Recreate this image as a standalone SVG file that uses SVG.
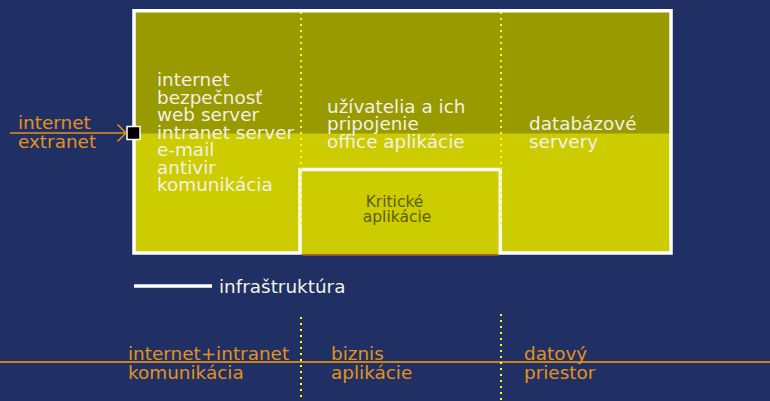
<svg xmlns="http://www.w3.org/2000/svg" width="770" height="401" viewBox="0 0 770 401">
<style>
  .t { font-family: "DejaVu Sans", Verdana, sans-serif; font-size: 18.4px; }
  .w { fill: #f2f2e6; }
  .o { fill: #e3921a; }
  .k { font-family: "DejaVu Sans", Verdana, sans-serif; font-size: 15.5px; fill: #5e5e00; }
  .dot { stroke: #ffff00; stroke-width: 2; stroke-dasharray: 2 4; fill: none; }
  .wl { stroke: #ffffff; stroke-width: 3.5; fill: none; }
</style>
<defs>
  <marker id="chev" viewBox="0 0 10 18" refX="9" refY="9" markerWidth="10" markerHeight="18" markerUnits="userSpaceOnUse" orient="auto">
    <path d="M0.5,0.5 L9,9 L0.5,17.5" fill="none" stroke="#e3921a" stroke-width="1.5"/>
  </marker>
</defs>
<rect width="770" height="401" fill="#203064"/>

<g id="frame">
  <rect x="134" y="10.7" width="537" height="122.5" fill="#999900"/>
  <rect x="134" y="133.2" width="537" height="120" fill="#cccc00"/>
  <rect x="300" y="169" width="200" height="85" fill="#cccc00"/>
  <line x1="302" y1="254.8" x2="499" y2="254.8" stroke="#d97a10" stroke-width="1.2"/>
  <path class="wl" d="M134,10.7 H671 V253 H500.3 V169.5 H300 V253 H134 Z"/>
  <line class="dot" x1="301" y1="12" x2="301" y2="229"/>
  <line class="dot" x1="501" y1="12" x2="501" y2="229"/>
</g>

<g id="section-internet">
  <text class="t w" x="157">
    <tspan x="157" y="86">internet</tspan>
    <tspan x="157" y="103.6">bezpečnosť</tspan>
    <tspan x="157" y="121">web server</tspan>
    <tspan x="157" y="138.5">intranet server</tspan>
    <tspan x="157" y="156">e-mail</tspan>
    <tspan x="157" y="173.8">antivir</tspan>
    <tspan x="157" y="191.4">komunikácia</tspan>
  </text>
</g>

<g id="section-biznis">
  <text class="t w">
    <tspan x="327" y="113">užívatelia a ich</tspan>
    <tspan x="327" y="130.3">pripojenie</tspan>
    <tspan x="327" y="147.7">office aplikácie</tspan>
  </text>
</g>

<g id="section-data">
  <text class="t w">
    <tspan x="529" y="130.3">databázové</tspan>
    <tspan x="529" y="147.7">servery</tspan>
  </text>
</g>

<g id="kriticke">
  <text class="k" text-anchor="middle">
    <tspan x="397" y="206.7">Kritické</tspan>
    <tspan x="397" y="221.7">aplikácie</tspan>
  </text>
</g>

<g id="input">
  <text class="t o">
    <tspan x="18" y="129">internet</tspan>
    <tspan x="18" y="147.7">extranet</tspan>
  </text>
  <rect x="127" y="126.5" width="13" height="13" fill="#000000" stroke="#ffffff" stroke-width="1.5"/>
</g>

<g id="connectors">
  <line x1="10" y1="133" x2="126" y2="133" stroke="#e3921a" stroke-width="1.5" marker-end="url(#chev)"/>
</g>

<g id="legend">
  <line x1="134" y1="286" x2="212" y2="286" stroke="#ffffff" stroke-width="3.5"/>
  <text class="t w" x="219" y="293">infraštruktúra</text>
</g>

<g id="axis">
  <line x1="0" y1="362" x2="770" y2="362" stroke="#c8861c" stroke-width="2"/>
  <line class="dot" x1="301" y1="317" x2="301" y2="401"/>
  <line class="dot" x1="501" y1="314" x2="501" y2="401"/>
  <text class="t o">
    <tspan x="128" y="360">internet+intranet</tspan>
    <tspan x="128" y="379">komunikácia</tspan>
  </text>
  <text class="t o">
    <tspan x="331" y="360">biznis</tspan>
    <tspan x="331" y="379">aplikácie</tspan>
  </text>
  <text class="t o">
    <tspan x="524" y="360">datový</tspan>
    <tspan x="524" y="379">priestor</tspan>
  </text>
</g>
</svg>
